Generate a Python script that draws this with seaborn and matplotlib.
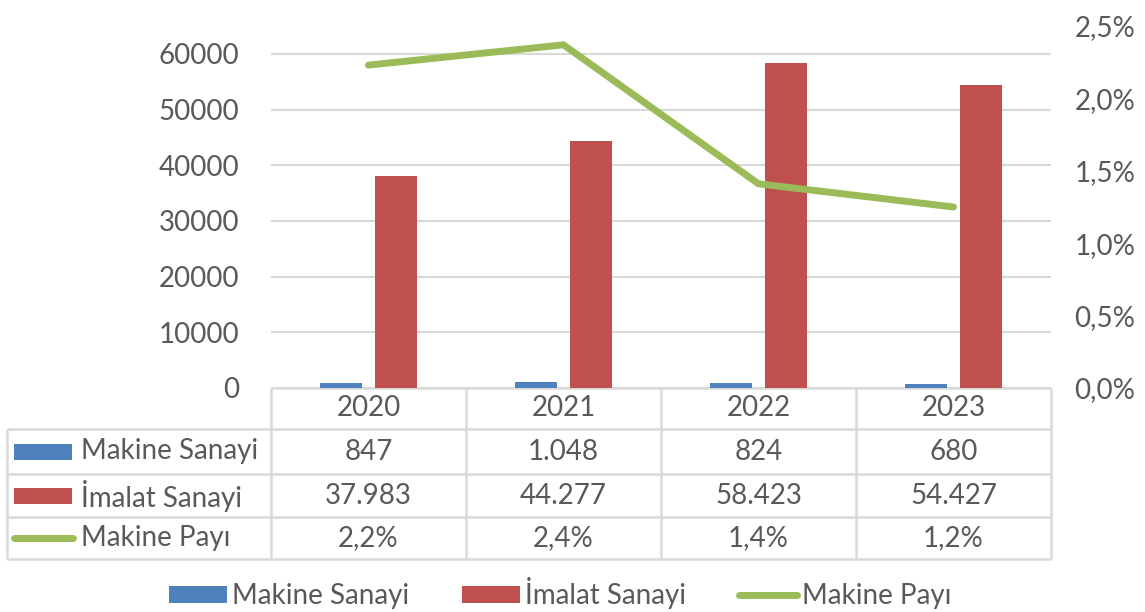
import numpy as np
import pandas as pd
import matplotlib
matplotlib.use("Agg")
import matplotlib.pyplot as plt
import seaborn as sns
from matplotlib.patches import Rectangle, Patch
from matplotlib.lines import Line2D

# ---- data ----
years = ["2020", "2021", "2022", "2023"]
makine = [847, 1048, 824, 680]
imalat = [37983, 44277, 58423, 54427]
pay = [2.23, 2.37, 1.41, 1.25]  # percent
series_names = ["Makine Sanayi", "İmalat Sanayi", "Makine Payı"]
left_ticks = [0, 10000, 20000, 30000, 40000, 50000, 60000]
right_ticks = [0.0, 0.5, 1.0, 1.5, 2.0, 2.5]

BLUE = "#4f81bd"
RED = "#c0504d"
GREEN = "#9bbb59"
GRID = "#d9d9d9"
TXT = "#595959"

sns.set_theme(style="white")
plt.rcParams['font.family'] = ['Lato', 'DejaVu Sans']
FS = 20

W, H = 1145, 612
fig = plt.figure(figsize=(W / 100, H / 100), dpi=100)
AX_L, AX_R, AX_B, AX_T = 271, 1051, 388, 26
ax = fig.add_axes([AX_L / W, 1 - AX_B / H, (AX_R - AX_L) / W, (AX_B - AX_T) / H])

df = pd.DataFrame({
    "Yil": years * 2,
    "Deger": makine + imalat,
    "Seri": [series_names[0]] * 4 + [series_names[1]] * 4,
})
sns.barplot(data=df, x="Yil", y="Deger", hue="Seri", palette=[BLUE, RED],
            width=0.57, gap=0.24, saturation=1, linewidth=0, legend=False, ax=ax)
ax.set_ylim(0, 65000)
ax.set_xlim(-0.5, 3.5)
ax.set_yticks(left_ticks)
ax.set_yticklabels([str(t) for t in left_ticks])
ax.set_xticks([])
ax.set_xlabel("")
ax.set_ylabel("")
ax.yaxis.grid(True, color=GRID, lw=1.5)
ax.set_axisbelow(True)
for s in ax.spines.values():
    s.set_visible(False)
ax.tick_params(axis="y", length=0, pad=23, labelsize=FS, labelcolor=TXT)

ax2 = ax.twinx()
sns.pointplot(x=years, y=pay, ax=ax2, color=GREEN, markers="", linewidth=5,
              errorbar=None, solid_capstyle="round")
ax2.set_ylim(0, 2.5)
ax2.set_xlim(-0.5, 3.5)
ax2.set_yticks(right_ticks)
ax2.set_yticklabels([f"{v:.1f}%".replace(".", ",") for v in right_ticks])
ax2.set_xticks([])
ax2.set_xlabel("")
ax2.set_ylabel("")
ax2.grid(False)
for s in ax2.spines.values():
    s.set_visible(False)
ax2.tick_params(axis="y", length=0, pad=17, labelsize=FS, labelcolor=TXT)

# ---- data table ----
tab = fig.add_axes([0, 0, 1, 1], zorder=-1)
tab.set_xlim(0, W)
tab.set_ylim(H, 0)
tab.axis("off")
TBL_L = 7
rows_y = [388, 429, 474, 517, 559]
col_x = [AX_L + i * (AX_R - AX_L) / 4 for i in range(5)]
lkw = dict(color=GRID, lw=1.8, solid_capstyle="butt")
tab.plot([AX_L, AX_R], [rows_y[0], rows_y[0]], **lkw)
for y in rows_y[1:]:
    tab.plot([TBL_L, AX_R], [y, y], **lkw)
for x in col_x:
    tab.plot([x, x], [rows_y[0], rows_y[-1]], **lkw)
tab.plot([TBL_L, TBL_L], [rows_y[1], rows_y[-1]], **lkw)

def tr_int(v):
    return f"{v:,}".replace(",", ".")

def tr_pct(v):
    return f"{v:.1f}%".replace(".", ",")

row_vals = [[tr_int(v) for v in makine], [tr_int(v) for v in imalat], [tr_pct(v) for v in pay]]
for i, yr in enumerate(years):
    cx = (col_x[i] + col_x[i + 1]) / 2
    tab.text(cx, (rows_y[0] + rows_y[1]) / 2, yr, ha="center", va="center", fontsize=FS, color=TXT)
    for r in range(3):
        cy = (rows_y[r + 1] + rows_y[r + 2]) / 2
        tab.text(cx, cy, row_vals[r][i], ha="center", va="center", fontsize=FS, color=TXT)

for r in range(3):
    cy = (rows_y[r + 1] + rows_y[r + 2]) / 2
    tab.text(81, cy, series_names[r], ha="left", va="center", fontsize=FS, color=TXT)
    if r < 2:
        tab.add_patch(Rectangle((14, cy - 8), 58, 16, color=[BLUE, RED][r], lw=0))
    else:
        tab.plot([14, 73], [cy, cy], color=GREEN, lw=5, solid_capstyle="round")

# ---- legend ----
handles = [Patch(facecolor=BLUE, edgecolor="none"), Patch(facecolor=RED, edgecolor="none"),
           Line2D([], [], color=GREEN, lw=5, solid_capstyle="round")]
fig.legend(handles=handles, labels=series_names, loc="center", bbox_to_anchor=(560 / W, 1 - 593 / H),
           ncol=3, frameon=False, fontsize=FS, handlelength=2.09, handleheight=0.58,
           handletextpad=0.18, columnspacing=1.9, labelcolor=TXT, borderpad=0)

fig.savefig("out.png", dpi=100)
